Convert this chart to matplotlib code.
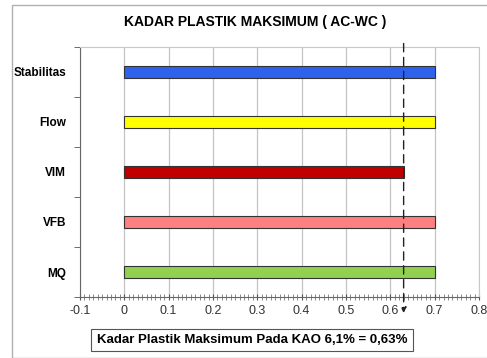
import numpy as np
import matplotlib.pyplot as plt
from matplotlib.patches import Rectangle
from matplotlib.ticker import MultipleLocator

# data
kategori = ['Stabilitas', 'Flow', 'VIM', 'VFB', 'MQ']
awal = [0, 0, 0, 0, 0]
akhir = [0.7, 0.7, 0.63, 0.7, 0.7]
warna = ['#2f62ec', '#ffff00', '#c00000', '#ff8080', '#92d050']
kadar_max = 0.63
judul = 'KADAR PLASTIK MAKSIMUM ( AC-WC )'
keterangan = 'Kadar Plastik Maksimum Pada KAO 6,1% = 0,63%'
xtik = [-0.1, 0, 0.1, 0.2, 0.3, 0.4, 0.5, 0.6, 0.7, 0.8]

plt.rcParams['font.family'] = ['Liberation Sans Narrow', 'Liberation Sans', 'DejaVu Sans']

fig = plt.figure(figsize=(4.87, 3.58), dpi=100)
fig.patches.append(Rectangle((12/487, 0), 1, 1-5/358, transform=fig.transFigure,
                             fill=False, edgecolor='#b0b0b0', linewidth=1))

ax = fig.add_axes([80/487, 1-297/358, 399/487, 250/358])
ax.set_axisbelow(True)
y = np.arange(len(kategori))
lebar = np.array(akhir) - np.array(awal)
ax.barh(y, lebar, left=awal, height=0.24, color=warna, edgecolor='#333333', linewidth=0.8, zorder=3)

ax.set_xlim(-0.1, 0.8)
ax.set_ylim(len(kategori) - 0.5, -0.5)
ax.set_xticks(xtik)
ax.set_xticklabels(['%g' % v for v in xtik])
ax.xaxis.set_minor_locator(MultipleLocator(0.01))
ax.set_yticks(y)
ax.set_yticklabels(kategori, fontweight='bold', fontsize=8.5)
ax.set_yticks(np.arange(-0.5, len(kategori)), minor=True)
ax.tick_params(axis='y', which='major', length=0, pad=10)
ax.tick_params(axis='y', which='minor', length=4, direction='out', color='#555555')
ax.tick_params(axis='x', which='major', length=4, direction='inout', labelsize=9, color='#555555', labelcolor='#333333')
ax.tick_params(axis='x', which='minor', length=4, direction='inout', color='#777777', width=0.6)
ax.xaxis.grid(True, which='major', color='#c4c4c4', linewidth=0.9)
for s in ['top', 'right']:
    ax.spines[s].set_color('#c8c8c8')
ax.spines['left'].set_color('#666666')
ax.spines['bottom'].set_color('#666666')

# garis kadar maksimum
ax.annotate('', xy=(kadar_max, len(kategori) - 0.5 + 0.32), xytext=(kadar_max, -0.57),
            arrowprops=dict(arrowstyle='-|>', linestyle=(0, (6, 4)), color='#222222',
                            linewidth=1, mutation_scale=8, shrinkA=0, shrinkB=0),
            annotation_clip=False, zorder=4)

fig.text(255/487, 1-22/358, judul, ha='center', va='center', fontsize=10, fontweight='bold')
fig.text(252/487, 1-340/358, keterangan, ha='center', va='center', fontsize=9.5, fontweight='bold',
         bbox=dict(boxstyle='square,pad=0.4', facecolor='white', edgecolor='#555555', linewidth=0.8))

fig.savefig('out.png', dpi=100)
